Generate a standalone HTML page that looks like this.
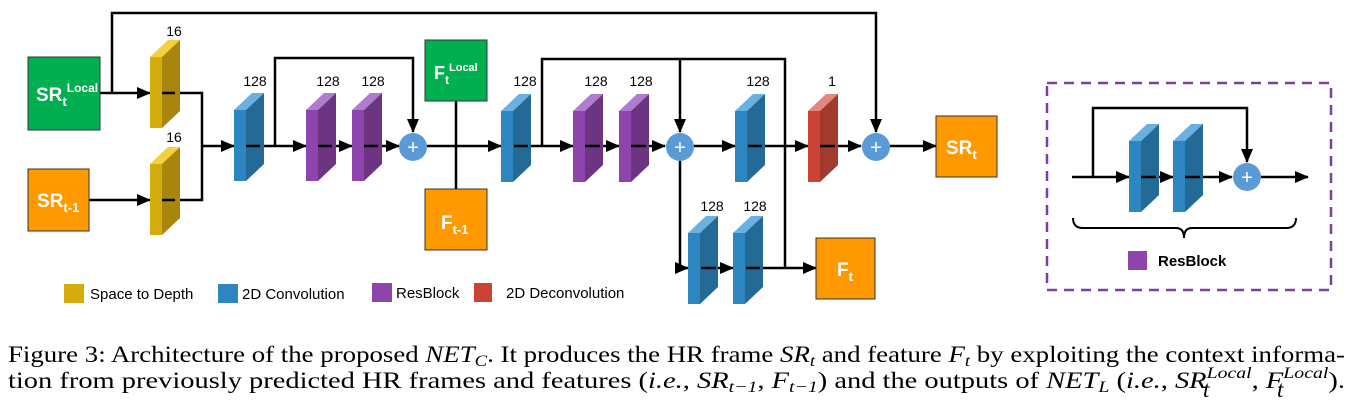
<!DOCTYPE html>
<html><head><meta charset="utf-8"><style>
html,body{margin:0;padding:0;background:#fff;}
svg{display:block;}
.lbl{font-family:"Liberation Sans",sans-serif;font-size:14px;fill:#000;text-anchor:middle;}
.bx{font-family:"Liberation Sans",sans-serif;font-weight:bold;fill:#fff;}
.lg{font-family:"Liberation Sans",sans-serif;font-size:15px;fill:#000;}
.cap{font-family:"Liberation Serif",serif;font-size:23px;fill:#000;}
.m{font-style:italic;}
</style></head><body>
<svg width="1357" height="408" viewBox="0 0 1357 408" xmlns="http://www.w3.org/2000/svg">
<defs>
<marker id="a" markerWidth="14" markerHeight="12" refX="13" refY="6" orient="auto" markerUnits="userSpaceOnUse">
<path d="M0,0 L14,6 L0,12 Z" fill="#000"/></marker>
</defs>
<g fill="none" stroke="#000" stroke-width="2.5">
<polyline points="112,93 112,13 876,13 876,132" marker-end="url(#a)"/>
<line x1="100" y1="93" x2="150" y2="93" marker-end="url(#a)"/>
<line x1="89" y1="200" x2="150" y2="200" marker-end="url(#a)"/>
<polyline points="162,93 202,93 202,200 162,200"/>
<line x1="202" y1="146" x2="234" y2="146" marker-end="url(#a)"/>
<line x1="246" y1="146" x2="306" y2="146" marker-end="url(#a)"/>
<polyline points="275,146 275,58 413,58 413,132" marker-end="url(#a)"/>
<line x1="318" y1="146" x2="352" y2="146" marker-end="url(#a)"/>
<line x1="364" y1="146" x2="399" y2="146" marker-end="url(#a)"/>
<line x1="427" y1="146" x2="501" y2="146" marker-end="url(#a)"/>
<line x1="456" y1="101" x2="456" y2="189"/>
<line x1="514" y1="146" x2="573" y2="146" marker-end="url(#a)"/>
<polyline points="542,146 542,59 785,59 785,268"/>
<line x1="680" y1="59" x2="680" y2="132" marker-end="url(#a)"/>
<line x1="585" y1="146" x2="619" y2="146" marker-end="url(#a)"/>
<line x1="631" y1="146" x2="665" y2="146" marker-end="url(#a)"/>
<line x1="694" y1="146" x2="735" y2="146" marker-end="url(#a)"/>
<line x1="748" y1="146" x2="808" y2="146" marker-end="url(#a)"/>
<line x1="820" y1="146" x2="861" y2="146" marker-end="url(#a)"/>
<line x1="890" y1="146" x2="936" y2="146" marker-end="url(#a)"/>
<polyline points="680,160 680,268 688,268" marker-end="url(#a)"/>
<line x1="701" y1="268" x2="733" y2="268" marker-end="url(#a)"/>
<line x1="746" y1="268" x2="816" y2="268" marker-end="url(#a)"/>
<line x1="1072" y1="177" x2="1129" y2="177" marker-end="url(#a)"/>
<polyline points="1093,177 1093,108 1247,108 1247,162" marker-end="url(#a)"/>
<line x1="1141" y1="177" x2="1173" y2="177" marker-end="url(#a)"/>
<line x1="1185" y1="177" x2="1232" y2="177" marker-end="url(#a)"/>
<line x1="1261" y1="177" x2="1308" y2="177" marker-end="url(#a)"/>
<path d="M1073,218 Q1073,228 1083,228 L1176,228 Q1184,228 1184,238 Q1184,228 1192,228 L1286,228 Q1296,228 1296,218" stroke-width="2"/>
</g>
<rect x="1047" y="83" width="284" height="207" fill="none" stroke="#7B3FA8" stroke-width="2.5" stroke-dasharray="10,7"/>

<rect x="28" y="57" width="72" height="73" fill="#00B050" stroke="#333" stroke-width="1"/>
<text class="bx" x="36" y="101" font-size="19">SR<tspan font-size="13" dy="5">t</tspan><tspan font-size="12" dy="-14">Local</tspan></text>
<rect x="28" y="169" width="61" height="62" fill="#FF9900" stroke="#333" stroke-width="1"/>
<text class="bx" x="37" y="207" font-size="19">SR<tspan font-size="13" dy="5">t-1</tspan></text>
<rect x="425" y="40" width="62" height="61" fill="#00B050" stroke="#333" stroke-width="1"/>
<text class="bx" x="434" y="79" font-size="18">F<tspan font-size="12" dy="5">t</tspan><tspan font-size="11" dy="-13">Local</tspan></text>
<rect x="425" y="189" width="62" height="61" fill="#FF9900" stroke="#333" stroke-width="1"/>
<text class="bx" x="441" y="229" font-size="19">F<tspan font-size="13" dy="5">t-1</tspan></text>
<rect x="936" y="116" width="61" height="61" fill="#FF9900" stroke="#333" stroke-width="1"/>
<text class="bx" x="946" y="154" font-size="19">SR<tspan font-size="13" dy="5">t</tspan></text>
<rect x="816" y="238" width="59" height="61" fill="#FF9900" stroke="#333" stroke-width="1"/>
<text class="bx" x="837" y="276" font-size="19">F<tspan font-size="13" dy="5">t</tspan></text>

<g>
<g transform="translate(150,57)"><polygon points="0,0 18,-17 30,-17 12,0" fill="#F4D03F"/><polygon points="12,0 30,-17 30,54 12,71" fill="#A8860B"/><rect width="12" height="71" fill="#D4AC0D"/></g>
<g transform="translate(150,164)"><polygon points="0,0 18,-17 30,-17 12,0" fill="#F4D03F"/><polygon points="12,0 30,-17 30,54 12,71" fill="#A8860B"/><rect width="12" height="71" fill="#D4AC0D"/></g>
<g transform="translate(234,110)"><polygon points="0,0 18,-17 30,-17 12,0" fill="#6AB0E0"/><polygon points="12,0 30,-17 30,54 12,71" fill="#236A96"/><rect width="12" height="71" fill="#2E86C1"/></g>
<g transform="translate(501,111)"><polygon points="0,0 18,-17 30,-17 12,0" fill="#6AB0E0"/><polygon points="12,0 30,-17 30,54 12,71" fill="#236A96"/><rect width="12" height="71" fill="#2E86C1"/></g>
<g transform="translate(735,111)"><polygon points="0,0 18,-17 30,-17 12,0" fill="#6AB0E0"/><polygon points="12,0 30,-17 30,54 12,71" fill="#236A96"/><rect width="12" height="71" fill="#2E86C1"/></g>
<g transform="translate(688,233)"><polygon points="0,0 18,-17 30,-17 12,0" fill="#6AB0E0"/><polygon points="12,0 30,-17 30,54 12,71" fill="#236A96"/><rect width="12" height="71" fill="#2E86C1"/></g>
<g transform="translate(733,233)"><polygon points="0,0 18,-17 30,-17 12,0" fill="#6AB0E0"/><polygon points="12,0 30,-17 30,54 12,71" fill="#236A96"/><rect width="12" height="71" fill="#2E86C1"/></g>
<g transform="translate(1129,141)"><polygon points="0,0 18,-17 30,-17 12,0" fill="#6AB0E0"/><polygon points="12,0 30,-17 30,54 12,71" fill="#236A96"/><rect width="12" height="71" fill="#2E86C1"/></g>
<g transform="translate(1173,141)"><polygon points="0,0 18,-17 30,-17 12,0" fill="#6AB0E0"/><polygon points="12,0 30,-17 30,54 12,71" fill="#236A96"/><rect width="12" height="71" fill="#2E86C1"/></g>
<g transform="translate(306,110)"><polygon points="0,0 18,-17 30,-17 12,0" fill="#B07CD0"/><polygon points="12,0 30,-17 30,54 12,71" fill="#6C3483"/><rect width="12" height="71" fill="#8E44AD"/></g>
<g transform="translate(352,110)"><polygon points="0,0 18,-17 30,-17 12,0" fill="#B07CD0"/><polygon points="12,0 30,-17 30,54 12,71" fill="#6C3483"/><rect width="12" height="71" fill="#8E44AD"/></g>
<g transform="translate(573,111)"><polygon points="0,0 18,-17 30,-17 12,0" fill="#B07CD0"/><polygon points="12,0 30,-17 30,54 12,71" fill="#6C3483"/><rect width="12" height="71" fill="#8E44AD"/></g>
<g transform="translate(619,111)"><polygon points="0,0 18,-17 30,-17 12,0" fill="#B07CD0"/><polygon points="12,0 30,-17 30,54 12,71" fill="#6C3483"/><rect width="12" height="71" fill="#8E44AD"/></g>
<g transform="translate(808,111)"><polygon points="0,0 18,-17 30,-17 12,0" fill="#E6877D"/><polygon points="12,0 30,-17 30,54 12,71" fill="#A33A2E"/><rect width="12" height="71" fill="#CB4335"/></g>
</g>
<g stroke="#000" stroke-width="2.5">
<line x1="162" y1="93" x2="175" y2="93"/><line x1="162" y1="200" x2="175" y2="200"/>
<line x1="246" y1="146" x2="260" y2="146"/><line x1="318" y1="146" x2="332" y2="146"/><line x1="364" y1="146" x2="378" y2="146"/>
<line x1="514" y1="146" x2="528" y2="146"/><line x1="585" y1="146" x2="600" y2="146"/><line x1="631" y1="146" x2="646" y2="146"/>
<line x1="748" y1="146" x2="762" y2="146"/><line x1="820" y1="146" x2="835" y2="146"/>
<line x1="701" y1="268" x2="716" y2="268"/><line x1="746" y1="268" x2="760" y2="268"/>
<line x1="1141" y1="177" x2="1156" y2="177"/><line x1="1185" y1="177" x2="1200" y2="177"/>
</g>
<g font-family="Liberation Sans,sans-serif" font-size="20" fill="#fff" text-anchor="middle">
<circle cx="413" cy="147" r="14" fill="#5B9BD5"/><text x="413" y="154">+</text>
<circle cx="680" cy="147" r="14" fill="#5B9BD5"/><text x="680" y="154">+</text>
<circle cx="876" cy="147" r="14" fill="#5B9BD5"/><text x="876" y="154">+</text>
<circle cx="1247" cy="177" r="14" fill="#5B9BD5"/><text x="1247" y="184">+</text>
</g>
<text class="lbl" x="174" y="36">16</text><text class="lbl" x="174" y="142">16</text>
<text class="lbl" x="255" y="86">128</text><text class="lbl" x="328" y="86">128</text><text class="lbl" x="373" y="86">128</text>
<text class="lbl" x="525" y="86">128</text><text class="lbl" x="596" y="86">128</text><text class="lbl" x="641" y="86">128</text>
<text class="lbl" x="758" y="86">128</text><text class="lbl" x="832" y="86">1</text>
<text class="lbl" x="712" y="211">128</text><text class="lbl" x="755" y="211">128</text>
<rect x="64" y="284" width="20" height="19" fill="#D4AC0D"/><text class="lg" x="90" y="299">Space to Depth</text>
<rect x="218" y="284" width="20" height="19" fill="#2E86C1"/><text class="lg" x="242" y="299">2D Convolution</text>
<rect x="372" y="283" width="20" height="19" fill="#8E44AD"/><text class="lg" x="396" y="298">ResBlock</text>
<rect x="474" y="283" width="18" height="19" fill="#CB4335"/><text class="lg" x="506" y="298">2D Deconvolution</text>
<rect x="1128" y="251" width="19" height="19" fill="#8E44AD"/>
<text class="lg" x="1158" y="266" font-weight="bold">ResBlock</text>
<text class="cap" x="8" y="362" textLength="1337" lengthAdjust="spacingAndGlyphs">Figure 3: Architecture of the proposed <tspan class="m">NET</tspan><tspan class="m" font-size="16" dy="4">C</tspan><tspan dy="-4">. It produces the HR frame </tspan><tspan class="m">SR</tspan><tspan class="m" font-size="16" dy="4">t</tspan><tspan dy="-4"> and feature </tspan><tspan class="m">F</tspan><tspan class="m" font-size="16" dy="4">t</tspan><tspan dy="-4"> by exploiting the context informa-</tspan></text>
<text class="cap" x="8" y="388" textLength="1337" lengthAdjust="spacingAndGlyphs">tion from previously predicted HR frames and features (<tspan class="m">i.e.</tspan>, <tspan class="m">SR</tspan><tspan class="m" font-size="16" dy="4">t−1</tspan><tspan dy="-4">, </tspan><tspan class="m">F</tspan><tspan class="m" font-size="16" dy="4">t−1</tspan><tspan dy="-4">) and the outputs of </tspan><tspan class="m">NET</tspan><tspan class="m" font-size="16" dy="4">L</tspan><tspan dy="-4"> (</tspan><tspan class="m">i.e.</tspan>, <tspan class="m">SR</tspan><tspan class="m" font-size="16" dy="-10">Local</tspan><tspan dy="10">, </tspan><tspan class="m">F</tspan><tspan class="m" font-size="16" dy="-10">Local</tspan><tspan dy="10">).</tspan></text>
<text class="cap m" x="1203" y="397" font-size="15">t</text>
<text class="cap m" x="1277" y="397" font-size="15">t</text>
</svg>
</body></html>
